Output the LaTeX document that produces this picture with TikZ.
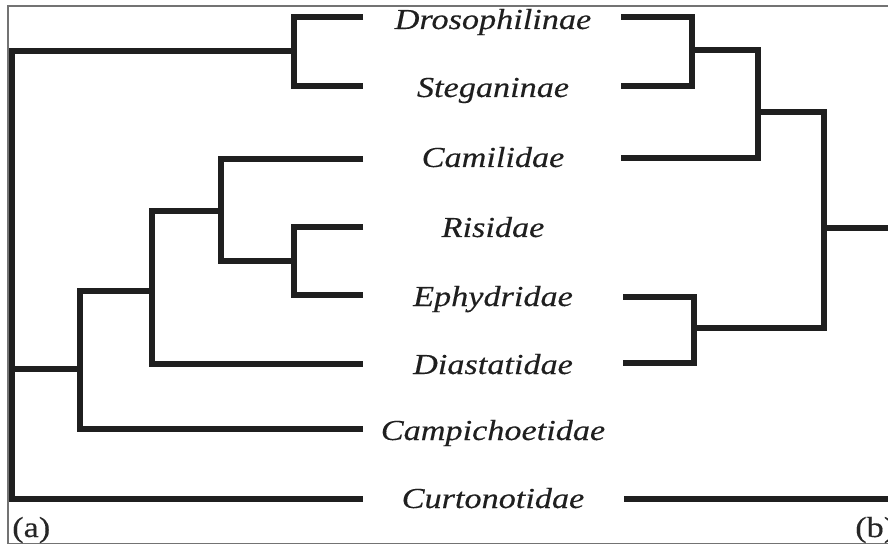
\documentclass[tikz,border=0pt]{standalone}
\usepackage{fontspec}
\setmainfont{Liberation Serif}
\newfontface\labit{Liberation Serif Italic}[FakeStretch=1.18,FakeBold=0.3]
\newfontface\labup{Liberation Serif}[FakeStretch=1.18,FakeBold=0.3]
\begin{document}
\begin{tikzpicture}[x=0.75pt,y=-0.75pt,
  br/.style={line width=3.8pt,draw=black!88,line join=miter,line cap=butt},
  taxon/.style={anchor=base,inner sep=0pt,font=\labit\fontsize{21.75pt}{24pt}\selectfont,text=black!88},
  panel/.style={anchor=base west,inner sep=0pt,font=\labup\fontsize{21.75pt}{24pt}\selectfont,text=black!85},
  frame/.style={draw=black!55,line width=0.8pt}]
\useasboundingbox (0,0) rectangle (888,545);
\draw[frame] (889,6) -- (8,6) -- (8,543.8) -- (889,543.8);
% taxon labels
\node[taxon] (t1) at (493,29) {Drosophilinae};
\node[taxon] (t2) at (493,97) {Steganinae};
\node[taxon] (t3) at (493,167) {Camilidae};
\node[taxon] (t4) at (493,237) {Risidae};
\node[taxon] (t5) at (493,306) {Ephydridae};
\node[taxon] (t6) at (493,374) {Diastatidae};
\node[taxon] (t7) at (493,440) {Campichoetidae};
\node[taxon] (t8) at (493,508) {Curtonotidae};
\node[panel] (pa) at (12,537) {(a)};
\node[panel] (pb) at (855,537) {(b)};
% left tree leaf ends
\coordinate (l1) at (363,17);
\coordinate (l2) at (363,86);
\coordinate (l3) at (363,159);
\coordinate (l4) at (363,227);
\coordinate (l5) at (363,295);
\coordinate (l6) at (363,364);
\coordinate (l7) at (363,429);
\coordinate (l8) at (363,499);
% left tree internal nodes
\coordinate (A) at (294,51);
\coordinate (B) at (294,261);
\coordinate (C) at (221,211);
\coordinate (D) at (152,291);
\coordinate (E) at (80,369);
\coordinate (R) at (12,51);
\draw[br] (l1) -| (A) |- (l2);
\draw[br] (A) -- (R) -- (R |- l8) -- (l8);
\draw[br] (l4) -| (B) |- (l5);
\draw[br] (l3) -| (C) |- (B);
\draw[br] (C) -| (D) |- (l6);
\draw[br] (D) -| (E) |- (l7);
\draw[br] (E) -- (R |- E);
% right tree leaf ends
\coordinate (r1) at (621,17);
\coordinate (r2) at (621,86);
\coordinate (r3) at (621,158);
\coordinate (r5) at (623,297);
\coordinate (r6) at (623,363);
\coordinate (r8) at (624,499);
% right tree internal nodes
\coordinate (F) at (692,50);
\coordinate (G) at (758,112);
\coordinate (H) at (694,328);
\coordinate (S) at (824,228);
\coordinate (e1) at (890,228);
\coordinate (e2) at (890,499);
\draw[br] (r1) -| (F) |- (r2);
\draw[br] (F) -| (G) |- (r3);
\draw[br] (r5) -| (H) |- (r6);
\draw[br] (G) -| (S) |- (H);
\draw[br] (S) -- (e1);
\draw[br] (r8) -- (e2);
\end{tikzpicture}
\end{document}
